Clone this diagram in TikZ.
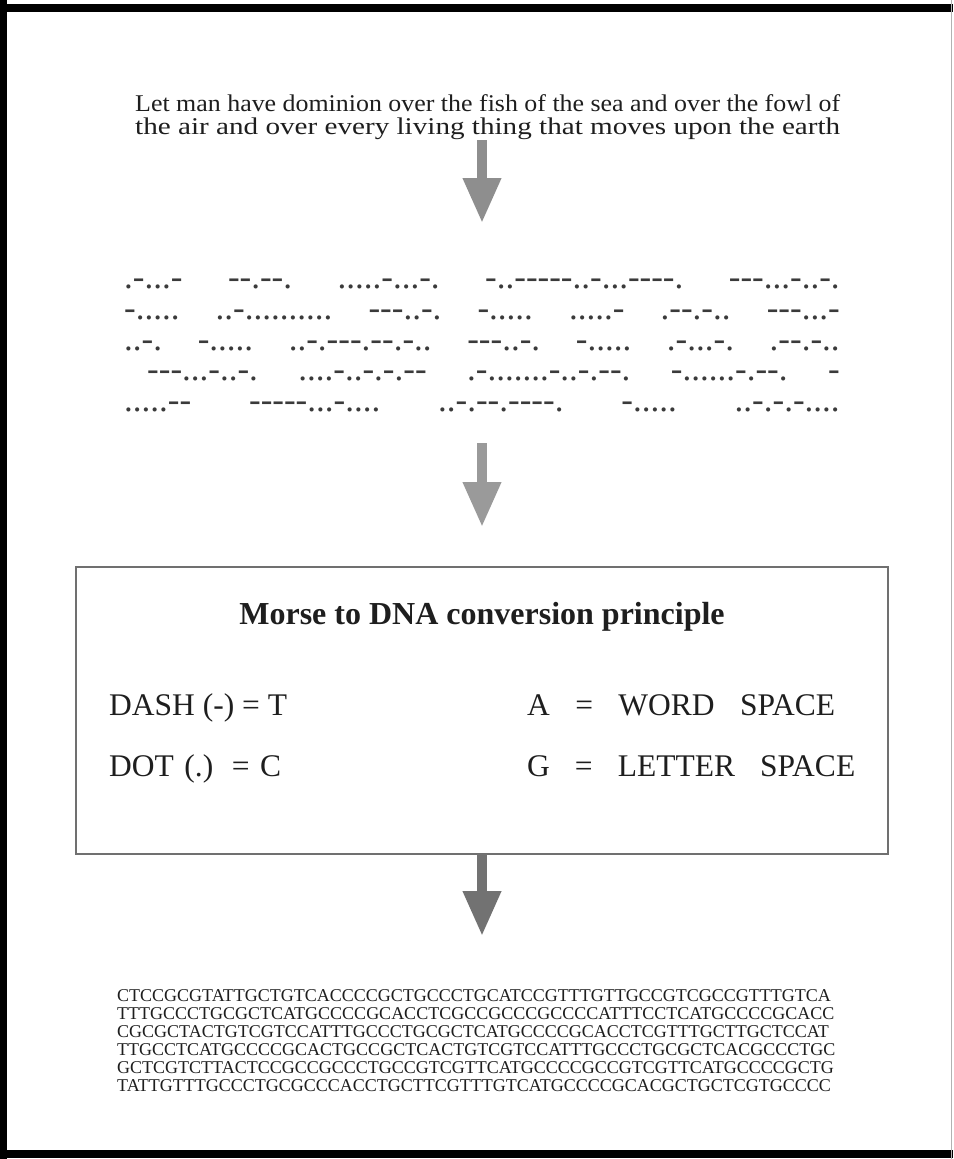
\documentclass[tikz,border=0pt]{standalone}
\usepackage{fontspec}
\usepackage{graphicx}
\setmainfont{Liberation Serif}
\newfontfamily\morsefont[Ligatures=TeXOff]{Liberation Serif}
\usetikzlibrary{arrows.meta}
\definecolor{arrowA}{HTML}{8E8E8E}
\definecolor{arrowB}{HTML}{9A9A9A}
\definecolor{arrowC}{HTML}{727272}
\definecolor{boxline}{HTML}{707070}
\definecolor{inktext}{HTML}{1E1E1E}
\definecolor{morseink}{HTML}{3A3A3A}
\tikzset{
  sentence/.style={anchor=base west, inner sep=0pt, font=\fontsize{24}{24}\selectfont, text=inktext},
  morserow/.style={anchor=base west, inner sep=0pt, font=\morsefont\fontsize{35}{35}\selectfont, text=morseink},
  dnarow/.style={anchor=base west, inner sep=0pt, font=\fontsize{18}{18}\selectfont, text=inktext},
  rulerow/.style={anchor=base west, inner sep=0pt, font=\fontsize{31.5}{31.5}\selectfont, text=inktext},
  boxtitle/.style={anchor=base, inner sep=0pt, font=\bfseries\fontsize{32}{32}\selectfont, text=inktext},
  blockarrow/.style={line width=10pt, -{Triangle[width=36pt,length=45pt]}},
  principlebox/.style={draw=boxline, line width=1.5pt, inner sep=0pt, outer sep=0pt, anchor=north west, minimum width=812pt, minimum height=287pt},
}
\begin{document}
\begin{tikzpicture}[x=1pt,y=-1pt]
\useasboundingbox (0,0) rectangle (953,1159);
\fill[white] (0,0) rectangle (953,1159);
% frame
\draw[line width=8pt] (0,8) -- (953,8);
\draw[line width=7pt] (3.5,0) -- (3.5,1159);
\draw[line width=8pt] (0,1154) -- (953,1154);
\draw[black!30, line width=1.5pt] (951.5,0) -- (951.5,1159);

% sentence
\node[sentence] (s1) at (135,111) {\resizebox{705pt}{\height}{Let man have dominion over the fish of the sea and over the fowl of}};
\node[sentence] (s2) at (135,134) {\resizebox{705pt}{\height}{the air and over every living thing that moves upon the earth}};

% arrow 1
\coordinate (a1s) at (482,140);
\coordinate (a1e) at (482,223);
\draw[blockarrow, arrowA] (a1s) -- (a1e);

% morse rows
\node[morserow] (m1) at (124,288) {\hbox to 715.5pt{.-...-\hfill--.--.\hfill.....-...-.\hfill-..-----..-...----.\hfill---...-..-.}};
\node[morserow] (m2) at (124,319) {\hbox to 715.5pt{-.....\hfill..-..........\hfill---..-.\hfill-.....\hfill.....-\hfill.--.-..\hfill---...-}};
\node[morserow] (m3) at (124,350) {\hbox to 715.5pt{..-.\hfill-.....\hfill..-.---.--.-..\hfill---..-.\hfill-.....\hfill.-...-.\hfill.--.-..}};
\node[morserow] (m4) at (147,380) {\hbox to 692.5pt{---...-..-.\hfill....-..-.-.--\hfill.-.......-..-.--.\hfill-......-.--.\hfill-}};
\node[morserow] (m5) at (124,411) {\hbox to 715.5pt{.....--\hfill-----...-....\hfill..-.--.----.\hfill-.....\hfill..-.-.-....}};

% arrow 2
\coordinate (a2s) at (482,443);
\coordinate (a2e) at (482,527);
\draw[blockarrow, arrowB] (a2s) -- (a2e);

% principle box
\node[principlebox] (box) at (76,567) {};
\node[boxtitle] (title) at (482,624) {Morse to DNA conversion principle};
\node[rulerow] (dash) at (109,715) {DASH (-) = T};
\node[rulerow] (dot) at (109,776) {\makebox[172pt][s]{DOT (.) = C}};
\node[rulerow] (aword) at (527,715) {\makebox[308pt][s]{A = WORD SPACE}};
\node[rulerow] (gletter) at (527,776) {\makebox[328pt][s]{G = LETTER SPACE}};

% arrow 3
\coordinate (a3e) at (482,936);
\draw[blockarrow, arrowC] (box.south) -- (a3e);

% DNA rows
\node[dnarow] (d1) at (117,1001) {CTCCGCGTATTGCTGTCACCCCGCTGCCCTGCATCCGTTTGTTGCCGTCGCCGTTTGTCA};
\node[dnarow] (d2) at (117,1019) {TTTGCCCTGCGCTCATGCCCCGCACCTCGCCGCCCGCCCCATTTCCTCATGCCCCGCACC};
\node[dnarow] (d3) at (117,1037) {CGCGCTACTGTCGTCCATTTGCCCTGCGCTCATGCCCCGCACCTCGTTTGCTTGCTCCAT};
\node[dnarow] (d4) at (117,1055) {TTGCCTCATGCCCCGCACTGCCGCTCACTGTCGTCCATTTGCCCTGCGCTCACGCCCTGC};
\node[dnarow] (d5) at (117,1073) {GCTCGTCTTACTCCGCCGCCCTGCCGTCGTTCATGCCCCGCCGTCGTTCATGCCCCGCTG};
\node[dnarow] (d6) at (117,1091) {TATTGTTTGCCCTGCGCCCACCTGCTTCGTTTGTCATGCCCCGCACGCTGCTCGTGCCCC};
\end{tikzpicture}
\end{document}
